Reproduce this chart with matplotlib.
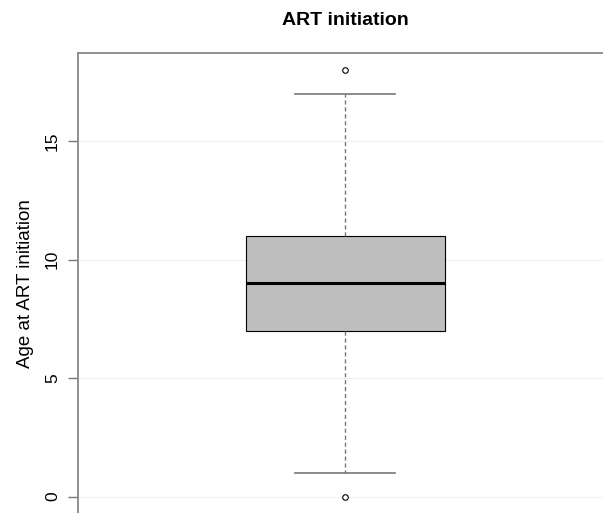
import matplotlib
matplotlib.use("Agg")
import matplotlib.pyplot as plt

plt.rcParams['font.family'] = ['Liberation Sans', 'DejaVu Sans']

# five-number summary for age at ART initiation
q1, median, q3 = 7, 9, 11
whisker_lo, whisker_hi = 1, 17
outliers = [0, 18]
y_ticks = [0, 5, 10, 15]

stats = [{
    'med': median, 'q1': q1, 'q3': q3,
    'whislo': whisker_lo, 'whishi': whisker_hi,
    'fliers': outliers, 'label': '',
}]

fig = plt.figure(figsize=(6.03, 5.13), dpi=100)
ax = fig.add_axes([0.1294, -0.0012, 0.887, 0.898])

for t in y_ticks:
    ax.axhline(t, color='#eeeeee', lw=0.8, zorder=0)

ax.bxp(stats, positions=[1], widths=0.372, patch_artist=True,
       boxprops=dict(facecolor='#bebebe', edgecolor='black', lw=0.8),
       medianprops=dict(color='black', lw=2.2),
       whiskerprops=dict(color='#777777', lw=1.0, ls=(0, (3, 2))),
       capprops=dict(color='#777777', lw=1.2),
       capwidths=0.187,
       flierprops=dict(marker='o', markersize=4, markerfacecolor='white',
                       markeredgecolor='black', markeredgewidth=0.8))

ax.set_xlim(0.5, 1.5)
ax.set_ylim(-0.72, 18.72)
ax.set_xticks([])
ax.set_yticks(y_ticks)
ax.set_yticklabels([str(t) for t in y_ticks], rotation=90, va='center', fontsize=12.5)
ax.tick_params(axis='y', length=7, width=1, color='#777777', pad=6)

for side in ['left', 'top']:
    ax.spines[side].set_color('#888888')
    ax.spines[side].set_linewidth(1.3)
for side in ['right', 'bottom']:
    ax.spines[side].set_visible(False)

ax.set_ylabel('Age at ART initiation', fontsize=13.5, labelpad=8)
fig.text(0.573, 0.96, 'ART initiation', ha='center', va='center',
         fontsize=14, fontweight='bold')

fig.savefig('out.png', dpi=100)
